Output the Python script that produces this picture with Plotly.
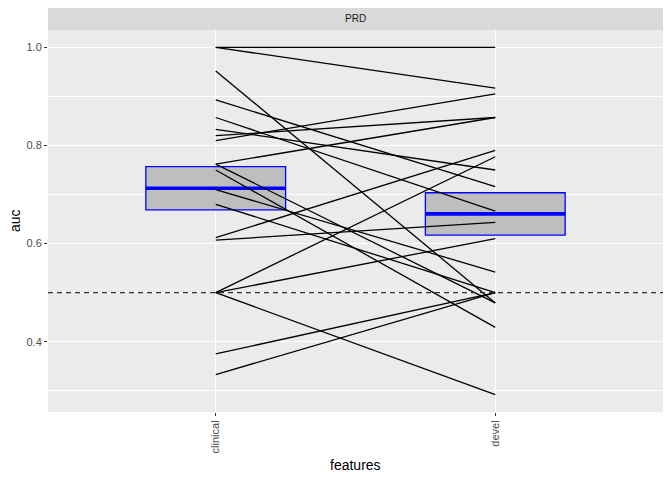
import numpy as np
import plotly.graph_objects as go

features = ["clinical", "devel"]
facet_label = "PRD"
# paired AUC values (one pair per line)
auc_clinical = [1.0, 1.0, 0.952, 0.893, 0.857, 0.833, 0.82, 0.81, 0.762, 0.762,
                0.75, 0.71, 0.68, 0.612, 0.607, 0.5, 0.5, 0.5, 0.375, 0.333]
auc_devel = [1.0, 0.917, 0.479, 0.716, 0.666, 0.75, 0.857, 0.905, 0.857, 0.479,
             0.429, 0.542, 0.5, 0.79, 0.643, 0.777, 0.61, 0.292, 0.5, 0.5]
ref_auc = 0.5
y_ticks = [0.4, 0.6, 0.8, 1.0]
y_tick_labels = ["0.4", "0.6", "0.8", "1.0"]

groups = [auc_clinical, auc_devel]
xpos = list(range(len(features)))

# page body has an 8px default margin; size the figure to compensate
OFF = 8
W, H = 672 - OFF, 480 - OFF
ML, MR, MT, MB = 48 - OFF, 9, 30 - OFF, 68
PW, PH = W - ML - MR, H - MT - MB

fig = go.Figure()

# crossbars: mean +/- standard error
half = 0.25
for i, vals in zip(xpos, groups):
    v = np.array(vals)
    m = v.mean()
    se = v.std(ddof=1) / np.sqrt(len(v))
    fig.add_trace(go.Box(
        x=[i], q1=[m - se], median=[m], q3=[m + se],
        lowerfence=[m - se], upperfence=[m + se],
        width=2 * half, fillcolor="#BEBEBE",
        line=dict(color="#0000FF", width=1.3),
        whiskerwidth=0, boxpoints=False, hoverinfo="skip", showlegend=False))
    fig.add_trace(go.Scatter(
        x=[i - half, i + half], y=[m, m], mode="lines",
        line=dict(color="#0000FF", width=3.6), hoverinfo="skip", showlegend=False))

# paired lines
lx, ly = [], []
for a, b in zip(auc_clinical, auc_devel):
    lx += [xpos[0], xpos[1], None]
    ly += [a, b, None]
fig.add_trace(go.Scatter(x=lx, y=ly, mode="lines",
                         line=dict(color="black", width=1.3),
                         hoverinfo="skip", showlegend=False))

# reference line
fig.add_trace(go.Scatter(x=[-0.6, 1.6], y=[ref_auc, ref_auc], mode="lines",
                         line=dict(color="#333333", width=1.2, dash="5px,4px"),
                         hoverinfo="skip", showlegend=False))

allv = np.array(auc_clinical + auc_devel)
span = allv.max() - allv.min()
yr = [allv.min() - 0.05 * span, allv.max() + 0.05 * span]

fig.update_layout(
    width=W, height=H,
    margin=dict(l=ML, r=MR, t=MT, b=MB, autoexpand=False),
    paper_bgcolor="white", plot_bgcolor="#EBEBEB",
    font=dict(family="Liberation Sans, Arial, sans-serif", color="#4D4D4D"),
    showlegend=False,
    xaxis=dict(range=[-0.6, 1.6], tickvals=xpos, ticktext=features, automargin=False,
               tickangle=-90, showgrid=True, gridcolor="white", gridwidth=1.1,
               zeroline=False, ticks="outside", ticklen=3, tickcolor="#333333",
               tickfont=dict(size=11, color="#4D4D4D")),
    yaxis=dict(range=yr, tickvals=y_ticks, ticktext=y_tick_labels, automargin=False,
               showgrid=True, gridcolor="white", gridwidth=1.1,
               minor=dict(dtick=0.1, tick0=0, showgrid=True, gridcolor="white", gridwidth=0.5),
               zeroline=False, ticks="outside", ticklen=3, tickcolor="#333333",
               tickfont=dict(size=11, color="#4D4D4D")),
    shapes=[dict(type="rect", xref="paper", yref="paper", x0=0, x1=1,
                 y0=1, y1=1 + 23 / PH, fillcolor="#D9D9D9", line=dict(width=0), layer="below")],
    annotations=[
        dict(text=facet_label, xref="paper", yref="paper", x=0.5,
             y=1 + 11.5 / PH, showarrow=False, yanchor="middle",
             font=dict(size=10, color="#1A1A1A")),
        dict(text="features", xref="paper", yref="paper", x=0.5,
             y=(0 - 53) / PH, showarrow=False, yanchor="middle", xanchor="center",
             font=dict(size=14, color="black")),
        dict(text="auc", xref="paper", yref="paper", x=(15 - 48) / PW,
             y=0.5, showarrow=False, yanchor="middle", xanchor="center", textangle=-90,
             font=dict(size=14, color="black")),
    ],
)

fig.write_html("out.html")
